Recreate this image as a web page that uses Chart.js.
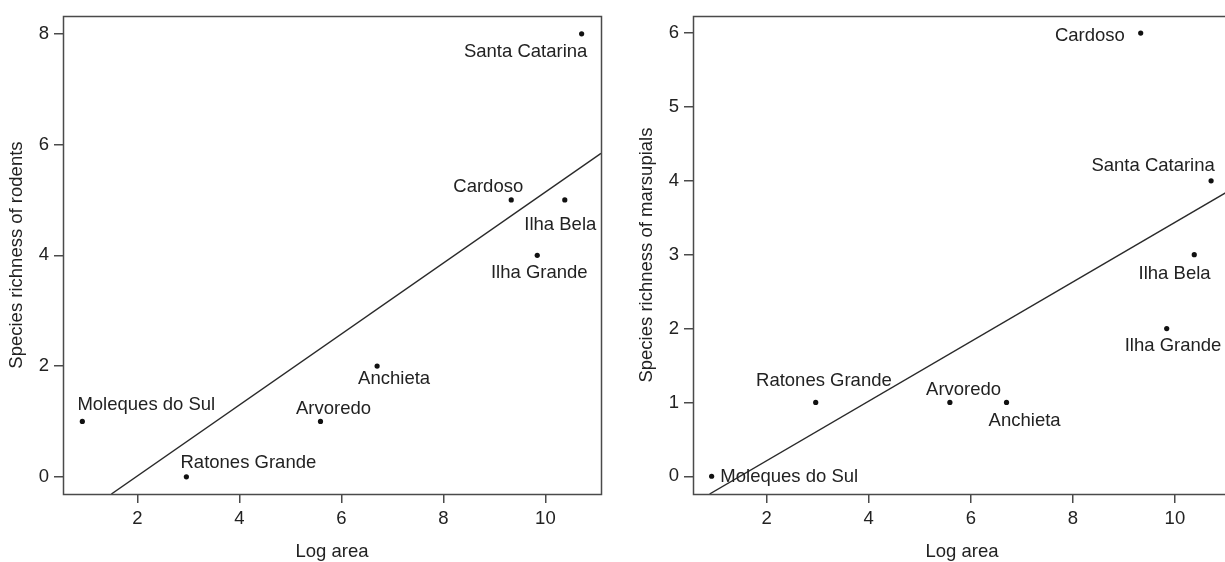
<!DOCTYPE html>
<html>
<head>
<meta charset="utf-8">
<script src="https://cdn.jsdelivr.net/npm/chart.js@4.4.0/dist/chart.umd.min.js"></script>
<style>
  html, body { margin: 0; padding: 0; background: #fff; width: 1225px; height: 562px; overflow: hidden; }
  .box { position: absolute; top: 0; width: 614px; height: 562px; }
  #wrapL { left: 0; }
  #wrapR { left: 630px; }
</style>
</head>
<body>
<div class="box" id="wrapL"><canvas id="cL" width="614" height="562"></canvas></div>
<div class="box" id="wrapR"><canvas id="cR" width="614" height="562"></canvas></div>
<script>
// ---- data ----
const islands = ['Moleques do Sul', 'Ratones Grande', 'Arvoredo', 'Anchieta', 'Cardoso', 'Ilha Bela', 'Ilha Grande', 'Santa Catarina'];
const logArea = [0.92, 2.96, 5.59, 6.70, 9.33, 10.38, 9.84, 10.71];
const rodentRichness = [1, 0, 1, 2, 5, 5, 4, 8];
const marsupialRichness = [0, 1, 1, 1, 6, 3, 2, 4];
// fitted regression lines (end points)
const rodentFitX = [1.49, 11.09];
const rodentFitY = [-0.31, 5.84];
const marsupialFitX = [0.88, 11.10];
const marsupialFitY = [-0.24, 3.88];
// tick labels
const xTicks = [2, 4, 6, 8, 10];
const rodentTicks = [0, 2, 4, 6, 8];
const marsupialTicks = [0, 1, 2, 3, 4, 5, 6];

// ---- label placement (style, px offsets: centre x, baseline y) ----
const rodentLabelOffsets = [[64, -11.4], [62, -8.5], [13, -7], [17, 18.3], [-23, -8.3], [-4.5, 30], [2, 22.6], [-56, 23.3]];
const marsupialLabelOffsets = [[77.6, 6.1], [8.2, -16.1], [13.7, -7.9], [18.1, 23.3], [-50.8, 7.9], [-19.7, 24.3], [6.3, 22.2], [-58, -9.7]];

const FONT = "'Liberation Sans', Arial, Helvetica, sans-serif";
const FS = 18.5;
const TXT = '#222';
const AX = '#4a4a4a';

const boxPlugin = {
  id: 'boxPlugin',
  afterDatasetsDraw(chart) {
    const {ctx, chartArea: a} = chart;
    ctx.save();
    ctx.strokeStyle = AX;
    ctx.lineWidth = 1.5;
    ctx.strokeRect(Math.round(a.left) + 0.5, Math.round(a.top) + 0.5, Math.round(a.right - a.left), Math.round(a.bottom - a.top));
    // point labels
    const meta = chart.getDatasetMeta(0);
    const offs = chart.options.plugins.boxPlugin.offsets;
    ctx.fillStyle = TXT;
    ctx.font = FS + 'px ' + FONT;
    ctx.textAlign = 'center';
    ctx.textBaseline = 'alphabetic';
    meta.data.forEach((el, i) => {
      const o = offs[i];
      ctx.fillText(islands[i], el.x + o[0], el.y + o[1]);
    });
    ctx.restore();
  }
};

function makeChart(id, yVals, fitX, fitY, yTicks, yTitle, xMin, xMax, yMin, yMax, offsets) {
  const pts = logArea.map((x, i) => ({x: x, y: yVals[i]}));
  const fit = fitX.map((x, i) => ({x: x, y: fitY[i]}));
  return new Chart(document.getElementById(id), {
    type: 'scatter',
    data: {
      datasets: [
        { data: pts, pointRadius: 2.6, pointHoverRadius: 2.6, pointBackgroundColor: '#111', pointBorderWidth: 0, showLine: false },
        { data: fit, showLine: true, borderColor: '#2a2a2a', borderWidth: 1.4, pointRadius: 0, fill: false }
      ]
    },
    options: {
      responsive: false,
      animation: false,
      events: [],
      layout: { padding: { top: 13, right: 13, left: 0, bottom: 0 } },
      plugins: { legend: { display: false }, tooltip: { enabled: false }, boxPlugin: { offsets: offsets } },
      scales: {
        x: {
          type: 'linear', min: xMin, max: xMax,
          afterBuildTicks: s => { s.ticks = xTicks.map(v => ({value: v})); },
          afterFit: s => { s.height = 68; },
          grid: { drawOnChartArea: false, drawTicks: true, tickLength: 9, color: AX, tickColor: AX, lineWidth: 1.5 },
          border: { display: false },
          ticks: { color: TXT, font: { family: FONT, size: FS }, padding: 5, maxRotation: 0 },
          title: { display: true, text: 'Log area', color: TXT, font: { family: FONT, size: FS }, padding: { top: 0, bottom: -1 } }
        },
        y: {
          type: 'linear', min: yMin, max: yMax,
          afterBuildTicks: s => { s.ticks = yTicks.map(v => ({value: v})); },
          afterFit: s => { s.width = 63; },
          grid: { drawOnChartArea: false, drawTicks: true, tickLength: 9, color: AX, tickColor: AX, lineWidth: 1.5 },
          border: { display: false },
          ticks: { color: TXT, font: { family: FONT, size: FS }, padding: 5 },
          title: { display: true, text: yTitle, color: TXT, font: { family: FONT, size: FS }, padding: { top: 6, bottom: 0 } }
        }
      }
    },
    plugins: [boxPlugin]
  });
}

makeChart('cL', rodentRichness, rodentFitX, rodentFitY, rodentTicks, 'Species richness of rodents', 0.541, 11.09, -0.31, 8.32, rodentLabelOffsets);
makeChart('cR', marsupialRichness, marsupialFitX, marsupialFitY, marsupialTicks, 'Species richness of marsupials', 0.555, 11.10, -0.24, 6.23, marsupialLabelOffsets);
</script>
</body>
</html>
